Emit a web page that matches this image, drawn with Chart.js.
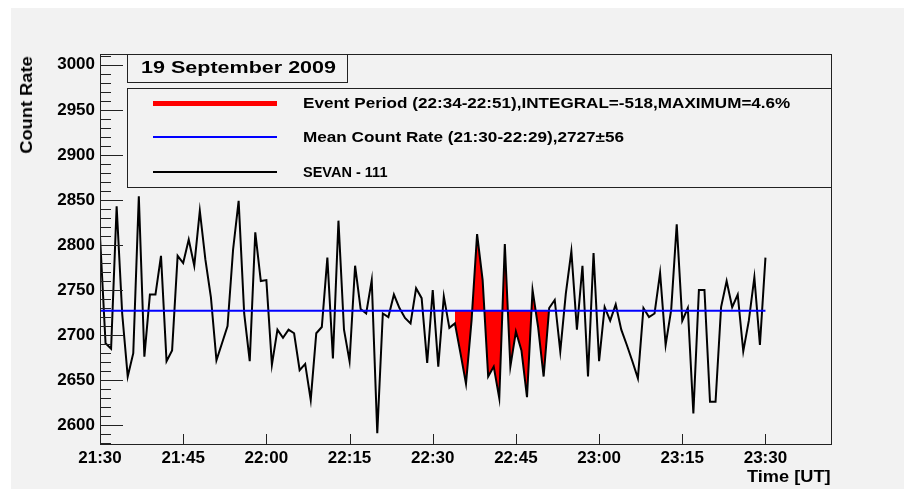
<!DOCTYPE html>
<html>
<head>
<meta charset="utf-8">
<title>SEVAN - 111, 19 September 2009</title>
<script src="https://cdn.jsdelivr.net/npm/chart.js"></script>
<style>
    body {
        margin: 0;
        padding: 0;
        overflow: hidden;
        background: #ffffff;
        font-family: 'Liberation Sans', Arial, sans-serif;
    }
    #pad {
        position: absolute;
        left: 11px;
        top: 8px;
        width: 893px;
        height: 481px;
        background: #f2f2f2;
    }
    #wrap {
        position: absolute;
        left: 0;
        top: 0;
        width: 904px;
        height: 489px;
    }
    .box {
        position: absolute;
        border: 1px solid #222;
        box-sizing: border-box;
    }
    .txt {
        position: absolute;
        font-weight: bold;
        white-space: nowrap;
        color: #000;
        transform-origin: 0 50%;
    }
    .key {
        position: absolute;
        left: 153px;
        width: 124px;
    }
    #ytitle {
        position: absolute;
        left: 27px;
        top: 105px;
        font-weight: bold;
        white-space: nowrap;
        font-size: 16px;
        transform-origin: 50% 50%;
    }
</style>
</head>
<body>
<div id="pad"></div>
<div id="wrap"><canvas id="chart" width="904" height="489"></canvas></div>

<div class="box" style="left:127px;top:54px;width:221px;height:29px;"></div>
<div class="txt" data-w="195" style="left:141px;top:68px;font-size:17px;">19 September 2009</div>

<div class="box" style="left:127px;top:88px;width:705px;height:100px;"></div>
<div class="key" style="top:101px;height:5px;background:#ff0000;"></div>
<div class="key" style="top:136px;height:2px;background:#0000ff;"></div>
<div class="key" style="top:171px;height:2px;background:#000000;"></div>
<div class="txt" data-w="487" style="left:303px;top:103px;font-size:14px;">Event Period (22:34-22:51),INTEGRAL=-518,MAXIMUM=4.6%</div>
<div class="txt" data-w="321" style="left:303px;top:137px;font-size:14px;">Mean Count Rate (21:30-22:29),2727±56</div>
<div class="txt" data-w="84" style="left:303px;top:172px;font-size:14px;">SEVAN - 111</div>

<div id="ytitle">Count Rate</div>
<div class="txt" data-w="83" style="left:747px;top:477px;font-size:16px;">Time [UT]</div>

<script>
    // counts per minute, 21:30 ... 23:30
    const counts = [
        2810, 2691, 2685, 2843, 2724, 2654, 2680, 2854, 2676, 2745,
        2745, 2788, 2671, 2683, 2788, 2780, 2806, 2777, 2838, 2784,
        2742, 2672, 2691, 2710, 2795, 2849, 2724, 2671, 2814, 2760,
        2761, 2667, 2706, 2697, 2706, 2702, 2661, 2668, 2628, 2702,
        2709, 2786, 2674, 2827, 2706, 2671, 2777, 2729, 2724, 2761,
        2591, 2724, 2720, 2745, 2730, 2719, 2713, 2752, 2741, 2669,
        2750, 2665, 2743, 2708, 2713, 2680, 2646, 2716, 2812, 2761,
        2654, 2665, 2630, 2801, 2665, 2704, 2683, 2631, 2750, 2709,
        2654, 2730, 2739, 2682, 2746, 2793, 2706, 2777, 2654, 2791,
        2671, 2731, 2716, 2734, 2706, 2689, 2671, 2652, 2730, 2720,
        2724, 2769, 2689, 2728, 2823, 2716, 2730, 2613, 2750, 2750,
        2626, 2626, 2731, 2760, 2731, 2745, 2682, 2716, 2764, 2689,
        2786
    ];
    const meanRate = 2727;
    const eventStart = 64;   // 22:34
    const eventEnd = 81;     // 22:51

    const xTickMinutes = [0, 15, 30, 45, 60, 75, 90, 105, 120];
    const xTickLabels = ['21:30', '21:45', '22:00', '22:15', '22:30', '22:45', '23:00', '23:15', '23:30'];
    const yTickValues = [2600, 2650, 2700, 2750, 2800, 2850, 2900, 2950, 3000];
    const xRange = [0, 132];
    const yRange = [2578, 3012];

    const series = counts.map((v, i) => ({ x: i, y: v }));
    const eventPart = series.slice(eventStart, eventEnd + 1);
    const meanLine = [{ x: 0, y: meanRate }, { x: counts.length - 1, y: meanRate }];

    const tickFont = { family: "'Liberation Sans', Arial, sans-serif", size: 17, weight: 'bold' };

    // ROOT style frame with inward ticks
    const frameTicks = {
        id: 'frameTicks',
        afterDraw(chart) {
            const ctx = chart.ctx;
            const a = chart.chartArea;
            const xs = chart.scales.x, ys = chart.scales.y;
            ctx.save();
            ctx.strokeStyle = '#222';
            ctx.lineWidth = 1;
            ctx.beginPath();
            for (let v = 2580; v <= 3010; v += 10) {
                const y = Math.round(ys.getPixelForValue(v)) + 0.5;
                const len = v % 50 === 0 ? 23 : 11;
                ctx.moveTo(a.left, y);
                ctx.lineTo(a.left + len, y);
            }
            xTickMinutes.forEach(m => {
                const x = Math.round(xs.getPixelForValue(m)) + 0.5;
                ctx.moveTo(x, a.bottom);
                ctx.lineTo(x, a.bottom - 11);
            });
            ctx.stroke();
            ctx.strokeRect(a.left + 0.5, a.top + 0.5, a.right - a.left - 1, a.bottom - a.top - 1);
            ctx.restore();
        }
    };

    new Chart(document.getElementById('chart'), {
        type: 'line',
        data: {
            datasets: [
                {
                    label: 'Mean Count Rate',
                    data: meanLine,
                    borderColor: '#0000ff',
                    borderWidth: 2,
                    pointRadius: 0,
                    fill: false
                },
                {
                    label: 'SEVAN - 111',
                    data: series,
                    borderColor: '#000000',
                    borderWidth: 2,
                    pointRadius: 0,
                    fill: false
                },
                {
                    label: 'Event Period',
                    data: eventPart,
                    borderWidth: 0,
                    borderColor: 'rgba(0,0,0,0)',
                    backgroundColor: '#ff0000',
                    pointRadius: 0,
                    fill: { value: meanRate }
                }
            ]
        },
        options: {
            responsive: false,
            animation: false,
            devicePixelRatio: 1,
            layout: { padding: { top: 54, right: 72, left: 0, bottom: 0 } },
            elements: { line: { tension: 0 } },
            plugins: {
                legend: { display: false },
                tooltip: { enabled: false }
            },
            scales: {
                x: {
                    type: 'linear',
                    min: xRange[0],
                    max: xRange[1],
                    grid: { display: false, drawTicks: false },
                    border: { display: false },
                    afterBuildTicks: s => { s.ticks = xTickMinutes.map(v => ({ value: v })); },
                    afterFit: s => { s.height = 44; },
                    ticks: {
                        autoSkip: false,
                        maxRotation: 0,
                        padding: 3,
                        color: '#000',
                        font: tickFont,
                        callback: (v, i) => xTickLabels[i]
                    }
                },
                y: {
                    min: yRange[0],
                    max: yRange[1],
                    grid: { display: false, drawTicks: false },
                    border: { display: false },
                    afterBuildTicks: s => { s.ticks = yTickValues.map(v => ({ value: v })); },
                    afterFit: s => { s.width = 100; },
                    ticks: {
                        padding: 5,
                        color: '#000',
                        font: tickFont,
                        callback: v => String(v)
                    }
                }
            }
        },
        plugins: [frameTicks]
    });

    // squeeze the overlay texts to the widths they have in the plot
    document.querySelectorAll('.txt').forEach(el => {
        const s = +el.dataset.w / el.offsetWidth;
        el.style.transform = 'translateY(-50%) scaleX(' + s.toFixed(3) + ')';
    });
    const yt = document.getElementById('ytitle');
    const ys = 97 / yt.offsetWidth;
    yt.style.transform = 'translate(-50%, -50%) rotate(-90deg) scaleX(' + ys.toFixed(3) + ')';
</script>
</body>
</html>
